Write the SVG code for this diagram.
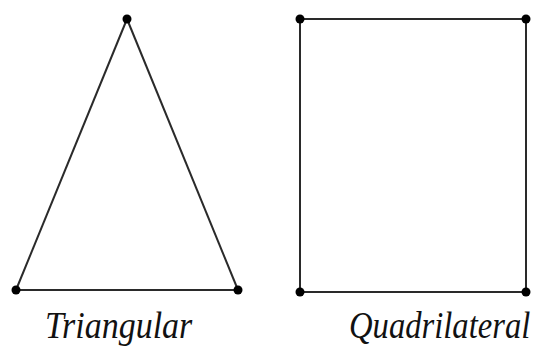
<svg xmlns="http://www.w3.org/2000/svg" width="540" height="354" viewBox="0 0 540 354">
<style>
.edge{stroke:#2a2a2a;stroke-width:2;fill:none}
.pt{fill:#000}
.lbl{font-family:"Liberation Serif","DejaVu Serif",serif;font-style:italic;font-size:34px;fill:#111}
</style>
<rect width="540" height="354" fill="#fff"/>
<g id="connectors">
<line class="edge" x1="127" y1="19" x2="16" y2="290"/>
<line class="edge" x1="127" y1="19" x2="238" y2="290"/>
<line class="edge" x1="16" y1="290" x2="238" y2="290"/>
<line class="edge" x1="300" y1="19" x2="526" y2="19"/>
<line class="edge" x1="526" y1="19" x2="526" y2="292"/>
<line class="edge" x1="526" y1="292" x2="300" y2="292"/>
<line class="edge" x1="300" y1="292" x2="300" y2="19"/>
</g>
<g id="tri-a"><circle class="pt" cx="127" cy="19" r="4.5"/></g>
<g id="tri-b"><circle class="pt" cx="16" cy="290" r="4.5"/></g>
<g id="tri-c"><circle class="pt" cx="238" cy="290" r="4.5"/></g>
<g id="quad-a"><circle class="pt" cx="300" cy="19" r="4.5"/></g>
<g id="quad-b"><circle class="pt" cx="526" cy="19" r="4.5"/></g>
<g id="quad-c"><circle class="pt" cx="526" cy="292" r="4.5"/></g>
<g id="quad-d"><circle class="pt" cx="300" cy="292" r="4.5"/></g>
<g id="label-tri"><text class="lbl" transform="translate(45,338) scale(1,1.12)">Triangular</text></g>
<g id="label-quad"><text class="lbl" transform="translate(349,338) scale(0.96,1.12)">Quadrilateral</text></g>
</svg>
